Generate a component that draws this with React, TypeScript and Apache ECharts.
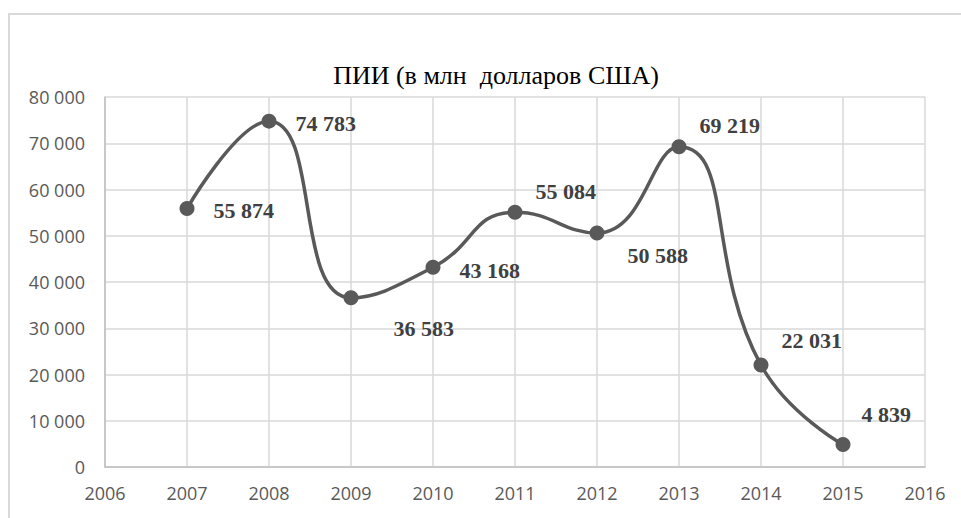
import React, { useEffect, useRef } from "react";
import * as echarts from "echarts";

const years = [2007, 2008, 2009, 2010, 2011, 2012, 2013, 2014, 2015];
const values = [55874, 74783, 36583, 43168, 55084, 50588, 69219, 22031, 4839];
const labelOffsets: [number, number][] = [
  [14, 2],
  [14, 2],
  [30, 31],
  [14, 3],
  [8, -21],
  [18, 22],
  [8, -21],
  [8, -25],
  [6, -30],
];
const titleText = "ПИИ (в млн  долларов США)";
const xMin = 2006;
const xMax = 2016;
const yMax = 80000;
const yStep = 10000;

function fmt(v: number): string {
  return String(Math.round(v)).replace(/\B(?=(\d{3})+(?!\d))/g, " ");
}

export default function App() {
  const ref = useRef<HTMLDivElement>(null);
  useEffect(() => {
    if (!ref.current) return;
    const chart = echarts.init(ref.current, null, { renderer: "svg" });
    chart.setOption({
      animation: false,
      backgroundColor: "#ffffff",
      title: {
        text: titleText,
        left: 491,
        top: 57,
        textAlign: "center",
        textStyle: {
          fontFamily: "Liberation Serif",
          fontSize: 26,
          fontWeight: "normal",
          color: "#000000",
        },
      },
      graphic: [
        {
          type: "line",
          shape: { x1: 9, y1: 13, x2: 9, y2: 530 },
          style: { stroke: "#d9d9d9", lineWidth: 2 },
          silent: true,
        },
        {
          type: "line",
          shape: { x1: 8, y1: 14, x2: 961, y2: 14 },
          style: { stroke: "#d9d9d9", lineWidth: 2 },
          silent: true,
        },
      ],
      grid: { left: 105, right: 36, top: 97, bottom: 51 },
      xAxis: {
        type: "value",
        min: xMin,
        max: xMax,
        interval: 1,
        axisLine: { show: true, lineStyle: { color: "#bfbfbf", width: 1.5 } },
        axisTick: { show: false },
        splitLine: { show: true, lineStyle: { color: "#d9d9d9", width: 1.5 } },
        axisLabel: {
          margin: 17,
          fontFamily: "Open Sans",
          fontSize: 18,
          color: "#595959",
          formatter: (v: number) => String(v),
        },
      },
      yAxis: {
        type: "value",
        min: 0,
        max: yMax,
        interval: yStep,
        axisLine: { show: true, lineStyle: { color: "#bfbfbf", width: 1.5 } },
        axisTick: { show: false },
        splitLine: { show: true, lineStyle: { color: "#d9d9d9", width: 1.5 } },
        axisLabel: {
          margin: 20,
          fontFamily: "Open Sans",
          fontSize: 18,
          color: "#595959",
          formatter: (v: number) => fmt(v),
        },
      },
      series: [
        {
          type: "line",
          smooth: 0.5,
          data: years.map((y, i) => ({
            value: [y, values[i]],
            label: { offset: labelOffsets[i] },
          })),
          symbol: "circle",
          symbolSize: 15,
          itemStyle: { color: "#595959" },
          lineStyle: { color: "#595959", width: 3.5 },
          label: {
            show: true,
            position: "right",
            fontFamily: "Liberation Serif",
            fontSize: 22,
            fontWeight: "bold",
            color: "#404040",
            formatter: (p: any) => fmt(p.value[1]),
          },
        },
      ],
    });
    return () => chart.dispose();
  }, []);
  return (
    <div
      ref={ref}
      style={{ position: "fixed", left: 0, top: 0, width: 961, height: 518 }}
    />
  );
}
